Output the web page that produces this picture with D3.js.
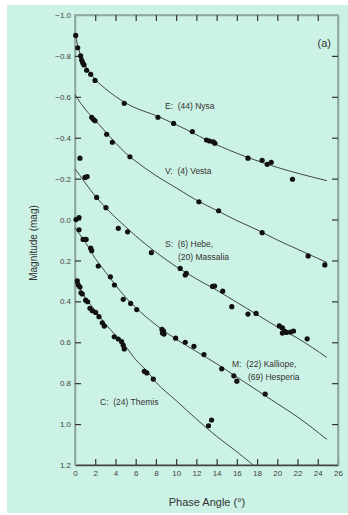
<!DOCTYPE html>
<html>
<head>
<meta charset="utf-8">
<script src="https://cdn.jsdelivr.net/npm/d3@7"></script>
<style>
  body { margin: 0; background: #fff; }
  text { font-family: "Liberation Sans", Arial, sans-serif; }
</style>
</head>
<body>
<svg id="chart" width="348" height="515"></svg>
<script>
// measured points [phase angle (deg), magnitude]
const nysaPts = [[0.07,-0.90],[0.27,-0.84],[0.56,-0.80],[0.66,-0.78],[0.76,-0.767],[0.89,-0.756],[1.15,-0.73],[1.55,-0.71],[1.98,-0.68],[4.87,-0.568],[8.2,-0.50],[9.75,-0.47],[11.6,-0.43],[13.0,-0.389],[13.3,-0.384],[13.67,-0.38],[13.83,-0.373],[17.1,-0.30],[18.5,-0.29],[19.0,-0.27],[19.4,-0.28],[21.5,-0.197]];
const vestaPts = [[1.65,-0.50],[1.81,-0.49],[1.98,-0.483],[3.13,-0.417],[3.69,-0.378],[5.43,-0.307],[12.25,-0.087],[14.2,-0.043],[18.5,0.064],[23.05,0.178],[24.7,0.222]];
const hebePts = [[0.49,-0.30],[0.99,-0.206],[1.2,-0.21],[2.14,-0.108],[3.06,-0.058],[4.28,0.043],[5.2,0.06],[7.55,0.162],[10.4,0.239],[10.9,0.271],[11.0,0.263],[13.6,0.327],[13.8,0.325],[14.6,0.35],[15.5,0.426],[17.1,0.462],[17.9,0.459],[20.2,0.52],[20.5,0.53],[20.7,0.545],[20.5,0.555],[20.9,0.552],[21.3,0.55],[21.6,0.545],[22.95,0.583]];
const kalliopePts = [[0.1,0.0],[0.4,-0.01],[0.4,0.05],[0.8,0.097],[1.1,0.097],[1.55,0.14],[1.65,0.152],[2.3,0.227],[3.5,0.28],[3.9,0.32],[4.77,0.39],[5.5,0.41],[6.1,0.44],[8.6,0.537],[8.75,0.545],[8.65,0.555],[8.8,0.56],[9.95,0.58],[10.9,0.60],[11.76,0.62],[12.75,0.66],[14.5,0.73],[15.7,0.764],[16.0,0.79],[18.8,0.853]];
const themisPts = [[0.23,0.30],[0.33,0.32],[0.49,0.33],[0.59,0.358],[0.72,0.364],[1.05,0.394],[1.25,0.402],[1.48,0.434],[1.71,0.446],[2.04,0.454],[2.37,0.475],[2.7,0.505],[2.9,0.521],[3.88,0.573],[4.28,0.584],[4.61,0.597],[4.77,0.614],[4.87,0.633],[6.85,0.742],[7.1,0.75],[7.74,0.78],[13.2,1.008],[13.5,0.98]];

// fitted phase curves
const nysaFit = [[0,-0.91],[0.5,-0.81],[1,-0.755],[2,-0.685],[3,-0.64],[5,-0.57],[8.4,-0.50],[11,-0.44],[13.6,-0.375],[17,-0.305],[20,-0.255],[24.9,-0.19]];
const vestaFit = [[0,-0.61],[1,-0.54],[2,-0.485],[3,-0.43],[4,-0.375],[5,-0.325],[6,-0.285],[8,-0.215],[10,-0.155],[12,-0.095],[14,-0.045],[16,0.005],[18,0.05],[20,0.10],[22,0.145],[24.9,0.21]];
const hebeFit = [[0,-0.247],[0.5,-0.215],[1,-0.18],[2,-0.115],[3,-0.06],[4,-0.01],[5,0.035],[6,0.08],[8,0.16],[10,0.23],[12,0.29],[14,0.345],[16,0.405],[18,0.465],[20,0.525],[22,0.58],[24.9,0.674]];
const kalliopeFit = [[0,0.04],[0.5,0.075],[1,0.11],[2,0.19],[3,0.255],[4,0.32],[5,0.38],[6,0.43],[8,0.515],[10,0.585],[12,0.645],[14,0.705],[16,0.77],[18,0.835],[20,0.9],[22,0.965],[24.9,1.075]];
const themisFit = [[0,0.31],[0.5,0.34],[1,0.38],[2,0.445],[3,0.51],[4,0.565],[5,0.62],[6,0.685],[7,0.735],[8,0.795],[10,0.885],[12,0.975],[14,1.06],[16,1.135],[17.6,1.2]];

const xTicks = d3.range(0, 27, 2);
const yTicks = [-1.0, -0.8, -0.6, -0.4, -0.2, 0.0, 0.2, 0.4, 0.6, 0.8, 1.0, 1.2];

const margin = {top: 15, right: 10, bottom: 50, left: 75};
const W = 348, H = 515;
const width = 338 - margin.left, height = 465 - margin.top;

const svg = d3.select('#chart');

// mint background panel
svg.append('rect')
    .attr('x', 7).attr('y', 5)
    .attr('width', W - 7).attr('height', H - 7)
    .attr('fill', '#ccf1e5');

const chart = svg.append('g')
    .attr('transform', `translate(${margin.left},${margin.top})`);

const xScale = d3.scaleLinear().domain([0, 26]).range([0, width]);
const yScale = d3.scaleLinear().domain([-1, 1.2]).range([0, height]);

// frame
chart.append('rect')
    .attr('width', width).attr('height', height)
    .attr('fill', 'none')
    .attr('stroke', '#8fa8a2')
    .attr('stroke-width', 1.6);

// axes, ticks pointing inward
const fmt = d3.format('.1f');
const xAxisB = d3.axisBottom(xScale).tickValues(xTicks).tickSize(-6).tickPadding(5).tickSizeOuter(0);
const xAxisT = d3.axisTop(xScale).tickValues(xTicks).tickSize(-6).tickFormat('').tickSizeOuter(0);
const yAxisL = d3.axisLeft(yScale).tickValues(yTicks).tickSize(-6).tickPadding(4).tickFormat(fmt).tickSizeOuter(0);
const yAxisR = d3.axisRight(yScale).tickValues(yTicks).tickSize(-6).tickFormat('').tickSizeOuter(0);

const gB = chart.append('g').attr('transform', `translate(0,${height})`).call(xAxisB);
const gT = chart.append('g').call(xAxisT);
const gL = chart.append('g').call(yAxisL);
const gR = chart.append('g').attr('transform', `translate(${width},0)`).call(yAxisR);

[gB, gT, gL, gR].forEach(g => {
    g.selectAll('.tick line').attr('stroke', '#333').attr('stroke-width', 1.2);
    g.selectAll('text').attr('fill', '#444').style('font-size', '8px');
    g.select('.domain').attr('stroke', '#8fa8a2').attr('stroke-width', 1.6);
});
gB.select('.domain').attr('stroke', '#444').attr('stroke-width', 1.4);
gT.selectAll('.tick').filter(d => d === 0 || d === 26).remove();
gB.selectAll('.tick line').filter(d => d === 0).remove();
gL.selectAll('.tick line').filter(d => d === -1 || d === 1.2).remove();
gR.selectAll('.tick').filter(d => d === -1 || d === 1.2).remove();

// fitted curves
const line = d3.line()
    .x(d => xScale(d[0]))
    .y(d => yScale(d[1]))
    .curve(d3.curveMonotoneX);

const fits = [nysaFit, vestaFit, hebeFit, kalliopeFit, themisFit];
chart.selectAll('.fit')
    .data(fits)
    .join('path')
    .attr('class', 'fit')
    .attr('d', line)
    .attr('fill', 'none')
    .attr('stroke', '#333')
    .attr('stroke-width', 0.9);

// observations
const groups = [nysaPts, vestaPts, hebePts, kalliopePts, themisPts];
chart.selectAll('.grp')
    .data(groups)
    .join('g')
    .attr('class', 'grp')
    .selectAll('circle')
    .data(d => d)
    .join('circle')
    .attr('cx', d => xScale(d[0]))
    .attr('cy', d => yScale(d[1]))
    .attr('r', 2.6)
    .attr('fill', '#111');

// class labels
const labels = [
    {t: 'E:  (44) Nysa', x: 165, y: 109},
    {t: 'V:  (4) Vesta', x: 165, y: 174},
    {t: 'S:  (6) Hebe,', x: 165, y: 247},
    {t: '(20) Massalia', x: 178, y: 260},
    {t: 'M:  (22) Kalliope,', x: 232, y: 367},
    {t: '(69) Hesperia', x: 248, y: 380},
    {t: 'C:  (24) Themis', x: 100, y: 405}
];
svg.selectAll('.lbl')
    .data(labels)
    .join('text')
    .attr('class', 'lbl')
    .attr('x', d => d.x).attr('y', d => d.y)
    .attr('fill', '#333')
    .style('font-size', '8.5px')
    .style('white-space', 'pre')
    .text(d => d.t);

svg.append('text')
    .attr('x', 331).attr('y', 47)
    .attr('text-anchor', 'end')
    .attr('fill', '#333')
    .style('font-size', '11px')
    .text('(a)');

// axis titles
svg.append('text')
    .attr('transform', 'translate(37,243) rotate(-90)')
    .attr('text-anchor', 'middle')
    .attr('fill', '#333')
    .style('font-size', '10px')
    .text('Magnitude (mag)');

svg.append('text')
    .attr('x', 207).attr('y', 506)
    .attr('text-anchor', 'middle')
    .attr('fill', '#333')
    .style('font-size', '11px')
    .text('Phase Angle (°)');
</script>
</body>
</html>
